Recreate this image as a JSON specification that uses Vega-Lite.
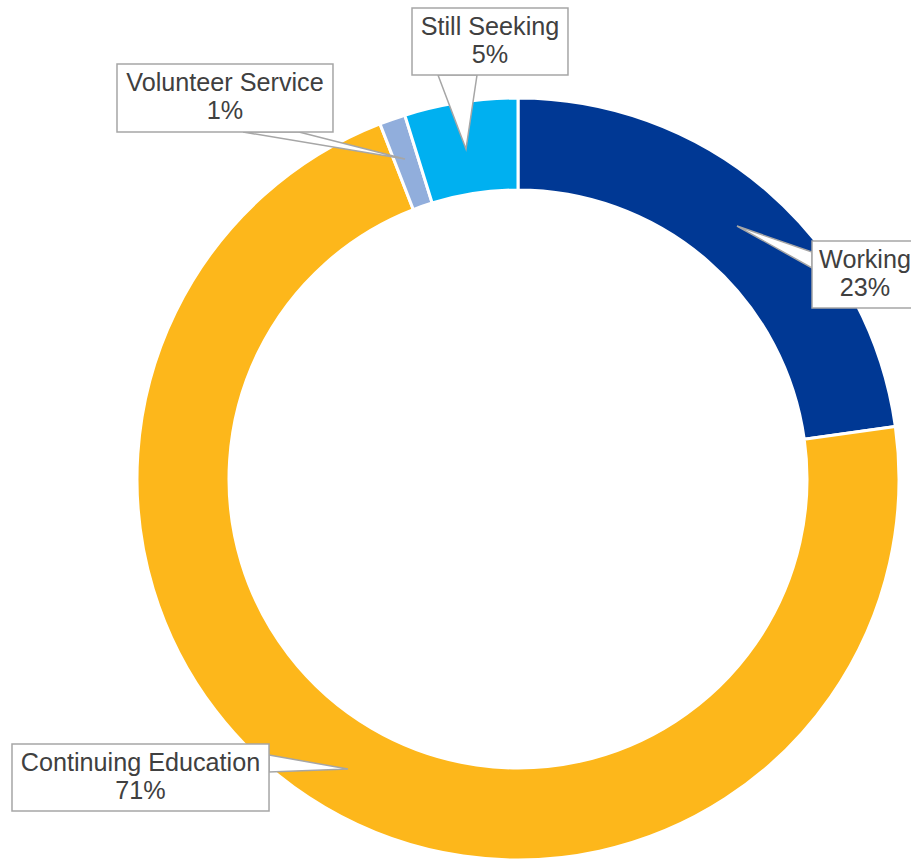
{
  "$schema": "https://vega.github.io/schema/vega-lite/v6.json",
  "autosize": {"type": "none"},
  "padding": {"left": 137, "top": 98, "right": 12, "bottom": 0},
  "width": 762,
  "height": 762,
  "background": "white",
  "config": {"view": {"stroke": null}},
  "datasets": {
    "slices": [
      {"category": "Working", "value": 22.8, "idx": 1},
      {"category": "Continuing Education", "value": 71.3, "idx": 2},
      {"category": "Volunteer Service", "value": 1.1, "idx": 3},
      {"category": "Still Seeking", "value": 4.8, "idx": 4}
    ],
    "boxes": [
      {"category": "Still Seeking", "label": "Still Seeking\n5%", "x1": -27.82, "x2": 13.12, "y1": 123.62, "y2": 106.04, "cx": -7.35, "cy": 118.73},
      {"category": "Volunteer Service", "label": "Volunteer Service\n1%", "x1": -105.25, "x2": -48.56, "y1": 108.92, "y2": 91.08, "cx": -76.9, "cy": 103.9},
      {"category": "Working", "label": "Working\n23%", "x1": 77.17, "x2": 104.99, "y1": 62.47, "y2": 44.88, "cx": 91.08, "cy": 57.57},
      {"category": "Continuing Education", "label": "Continuing Education\n71%", "x1": -132.81, "x2": -65.35, "y1": -69.55, "y2": -87.14, "cx": -99.08, "cy": -74.45}
    ],
    "pointersV": [
      {"category": "Working", "px": 77.17, "py": 59.58, "py2": 55.38},
      {"category": "Working", "px": 57.48, "py": 66.4, "py2": 66.4},
      {"category": "Continuing Education", "px": -65.35, "py": -72.44, "py2": -76.9},
      {"category": "Continuing Education", "px": -44.62, "py": -76.12, "py2": -76.12}
    ],
    "pointersH": [
      {"category": "Still Seeking", "py": 106.04, "px": -21.0, "px2": -10.76},
      {"category": "Still Seeking", "py": 86.61, "px": -13.65, "px2": -13.65},
      {"category": "Volunteer Service", "py": 91.08, "px": -72.18, "px2": -57.48},
      {"category": "Volunteer Service", "py": 83.99, "px": -29.66, "px2": -29.66}
    ]
  },
  "layer": [
    {
      "data": {"name": "slices"},
      "mark": {"type": "arc", "outerRadius": 381, "innerRadius": 289, "stroke": "white", "strokeWidth": 3},
      "encoding": {
        "theta": {"field": "value", "type": "quantitative", "stack": true},
        "order": {"field": "idx", "type": "quantitative"},
        "color": {
          "field": "category", "type": "nominal", "legend": null,
          "scale": {
            "domain": ["Working", "Continuing Education", "Volunteer Service", "Still Seeking"],
            "range": ["#003894", "#FDB71B", "#91AEDC", "#00B0F0"]
          }
        }
      }
    },
    {
      "data": {"name": "pointersV"},
      "mark": {"type": "area", "fill": "white", "stroke": "#A6A6A6", "strokeWidth": 1.5, "orient": "vertical"},
      "encoding": {
        "x": {"field": "px", "type": "quantitative", "axis": null, "scale": {"domain": [-100, 100], "nice": false, "zero": false}},
        "y": {"field": "py", "type": "quantitative", "axis": null, "stack": null, "scale": {"domain": [-100, 100], "nice": false, "zero": false}},
        "y2": {"field": "py2"},
        "detail": {"field": "category", "type": "nominal"}
      }
    },
    {
      "data": {"name": "pointersH"},
      "mark": {"type": "area", "fill": "white", "stroke": "#A6A6A6", "strokeWidth": 1.5, "orient": "horizontal"},
      "encoding": {
        "y": {"field": "py", "type": "quantitative", "axis": null, "scale": {"domain": [-100, 100], "nice": false, "zero": false}},
        "x": {"field": "px", "type": "quantitative", "axis": null, "stack": null, "scale": {"domain": [-100, 100], "nice": false, "zero": false}},
        "x2": {"field": "px2"},
        "detail": {"field": "category", "type": "nominal"}
      }
    },
    {
      "data": {"name": "boxes"},
      "mark": {"type": "rect", "fill": "white", "stroke": "#A6A6A6", "strokeWidth": 1.5},
      "encoding": {
        "x": {"field": "x1", "type": "quantitative", "axis": null, "scale": {"domain": [-100, 100], "nice": false, "zero": false}},
        "x2": {"field": "x2"},
        "y": {"field": "y1", "type": "quantitative", "axis": null, "scale": {"domain": [-100, 100], "nice": false, "zero": false}},
        "y2": {"field": "y2"}
      }
    },
    {
      "data": {"name": "boxes"},
      "mark": {"type": "text", "font": "Liberation Sans", "fontSize": 25.2, "color": "#404040", "align": "center", "baseline": "middle", "lineBreak": "\n", "lineHeight": 28},
      "encoding": {
        "x": {"field": "cx", "type": "quantitative", "axis": null, "scale": {"domain": [-100, 100], "nice": false, "zero": false}},
        "y": {"field": "cy", "type": "quantitative", "axis": null, "scale": {"domain": [-100, 100], "nice": false, "zero": false}},
        "text": {"field": "label", "type": "nominal"}
      }
    }
  ]
}
